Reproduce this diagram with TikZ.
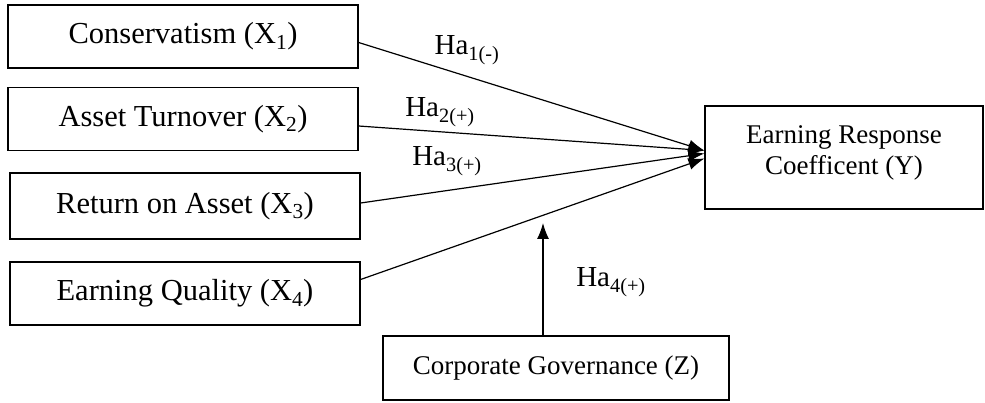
\documentclass[tikz,border=0pt]{standalone}
\usepackage{fontspec}
\setmainfont{Liberation Serif}
\usetikzlibrary{arrows.meta}

\begin{document}
\begin{tikzpicture}[
    x = 1pt, y = -1pt,
    line width = 1.2pt,
    box/.style = {
        draw, rectangle, minimum width=350pt, minimum height=63pt,
        font=\fontsize{30.5}{36}\selectfont
    },
    smallbox/.style = {
        draw, rectangle, align=center,
        font=\fontsize{27}{31}\selectfont
    },
    ha/.style = {font=\fontsize{29}{34}\selectfont, inner sep=0pt},
    link/.style = {-{Latex[length=16pt,width=12pt]}}
  ]
    \useasboundingbox (0,0) rectangle (985,403);
    \node[box] (x1) at (183,36.5) {Conservatism (X\textsubscript{1})};  % X1
    \node[box] (x2) at (183,119) {Asset Turnover (X\textsubscript{2})};  % X2
    \node[box, minimum height=66pt] (x3) at (185,206) {Return on Asset (X\textsubscript{3})};  % X3
    \node[box] (x4) at (185,293.5) {Earning Quality (X\textsubscript{4})};  % X4
    \node[smallbox, minimum width=278pt, minimum height=103pt, text depth=14pt] (y) at (844,157.5)
        {Earning Response\\Coefficent (Y)};  % Y
    \node[smallbox, minimum width=346pt, minimum height=64pt] (z) at (556,368)
        {Corporate Governance (Z)};  % Z
    \coordinate (zend) at (543,223);  % moderating arrow tip

    \draw[link] ([yshift=-6pt]x1.east) -- ([yshift=7pt]y.west);
    \draw[link] ([yshift=-7pt]x2.east) -- ([yshift=7pt]y.west);
    \draw[link] ([yshift=3pt]x3.east) -- ([yshift=4pt]y.west);
    \draw[link] ([yshift=14pt]x4.east) -- ([yshift=-1pt]y.west);
    \draw[link] (z.north -| zend) -- (zend);

    \node[ha] (h1) at (467,50) {Ha\textsubscript{1(-)}};
    \node[ha] (h2) at (440,112) {Ha\textsubscript{2(+)}};
    \node[ha] (h3) at (447,161) {Ha\textsubscript{3(+)}};
    \node[ha] (h4) at (611,282) {Ha\textsubscript{4(+)}};
\end{tikzpicture}
\end{document}
